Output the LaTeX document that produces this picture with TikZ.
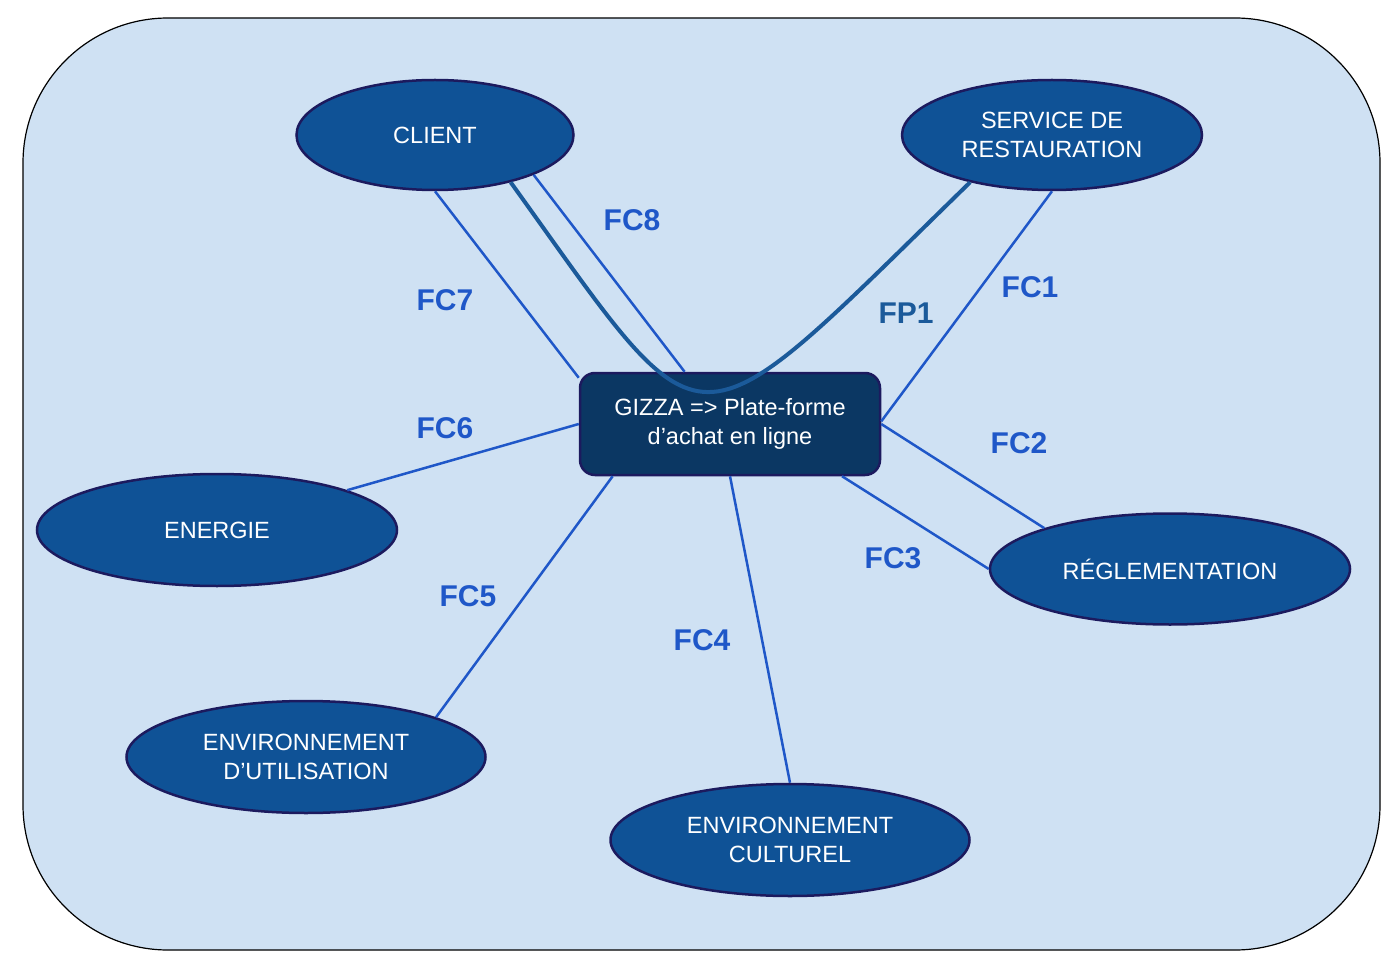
\documentclass[tikz,border=0pt]{standalone}
\usepackage{fontspec}
\setmainfont{Liberation Sans}
\usetikzlibrary{shapes.geometric}
\definecolor{bgblue}{HTML}{CFE1F3}
\definecolor{ellfill}{HTML}{0F5296}
\definecolor{navyline}{HTML}{1C1A5E}
\definecolor{boxfill}{HTML}{0B3763}
\definecolor{fcblue}{HTML}{1F57C8}
\definecolor{fpblue}{HTML}{1B5A9A}
\tikzset{
  actor/.style={ellipse, draw=navyline, line width=2.5pt, fill=ellfill, text=white, inner sep=0pt, align=center, font=\fontsize{23.5}{29}\selectfont},
  mainbox/.style={rectangle, rounded corners=15pt, draw=navyline, line width=2.5pt, fill=boxfill, text=white, inner sep=0pt, align=center, minimum width=300pt, minimum height=102pt, font=\fontsize{23.5}{29}\selectfont},
  fcline/.style={draw=fcblue, line width=2.5pt},
  fpline/.style={draw=fpblue, line width=4pt},
  fclabel/.style={text=fcblue, font=\fontsize{30}{36}\selectfont\bfseries},
  fplabel/.style={text=fpblue, font=\fontsize{30}{36}\selectfont\bfseries}
}
\begin{document}
\begin{tikzpicture}[x=1pt,y=-1pt]
\useasboundingbox (0,0) rectangle (1397,968);
\draw[fill=bgblue, draw=black, line width=1.2pt, rounded corners=145pt] (23,18) rectangle (1380,950);

\node[actor, minimum width=277pt, minimum height=110pt] (client) at (435,135) {CLIENT};
\node[actor, minimum width=300pt, minimum height=110pt] (service) at (1052,135) {SERVICE DE\\RESTAURATION};
\node[actor, minimum width=360pt, minimum height=112pt] (energie) at (217,530) {ENERGIE};
\node[actor, minimum width=360pt, minimum height=111pt] (regl) at (1170,569) {RÉGLEMENTATION};
\node[actor, minimum width=359pt, minimum height=112pt] (util) at (306,757) {ENVIRONNEMENT\\D’UTILISATION};
\node[actor, minimum width=359pt, minimum height=112pt] (cult) at (790,840) {ENVIRONNEMENT\\CULTUREL};

\node[mainbox] (gizza) at (730,424) {GIZZA => Plate-forme\\d’achat en ligne};

\draw[fcline] (client.south) -- (gizza.163.7);
\draw[fcline] (client.-22.7) -- (gizza.131.5);
\draw[fpline] (client.-32.8) .. controls (712,462) and (683,462) .. (service.210.3);
\draw[fcline] (service.south) -- (gizza.1);
\draw[fcline] (gizza.-0.5) -- (regl.162.1);
\draw[fcline] (gizza.-25.3) -- (regl.180);
\draw[fcline] (gizza.south) -- (cult.north);
\draw[fcline] (gizza.204.2) -- (util.17.5);
\draw[fcline] (gizza.west) -- (energie.17.4);

\node[fclabel] (l8) at (632,220) {FC8};
\node[fclabel] (l7) at (445,300) {FC7};
\node[fplabel] (lp1) at (906,313) {FP1};
\node[fclabel] (l1) at (1030,287) {FC1};
\node[fclabel] (l6) at (445,428) {FC6};
\node[fclabel] (l2) at (1019,443) {FC2};
\node[fclabel] (l3) at (893,558) {FC3};
\node[fclabel] (l5) at (468,596) {FC5};
\node[fclabel] (l4) at (702,640) {FC4};
\end{tikzpicture}
\end{document}
